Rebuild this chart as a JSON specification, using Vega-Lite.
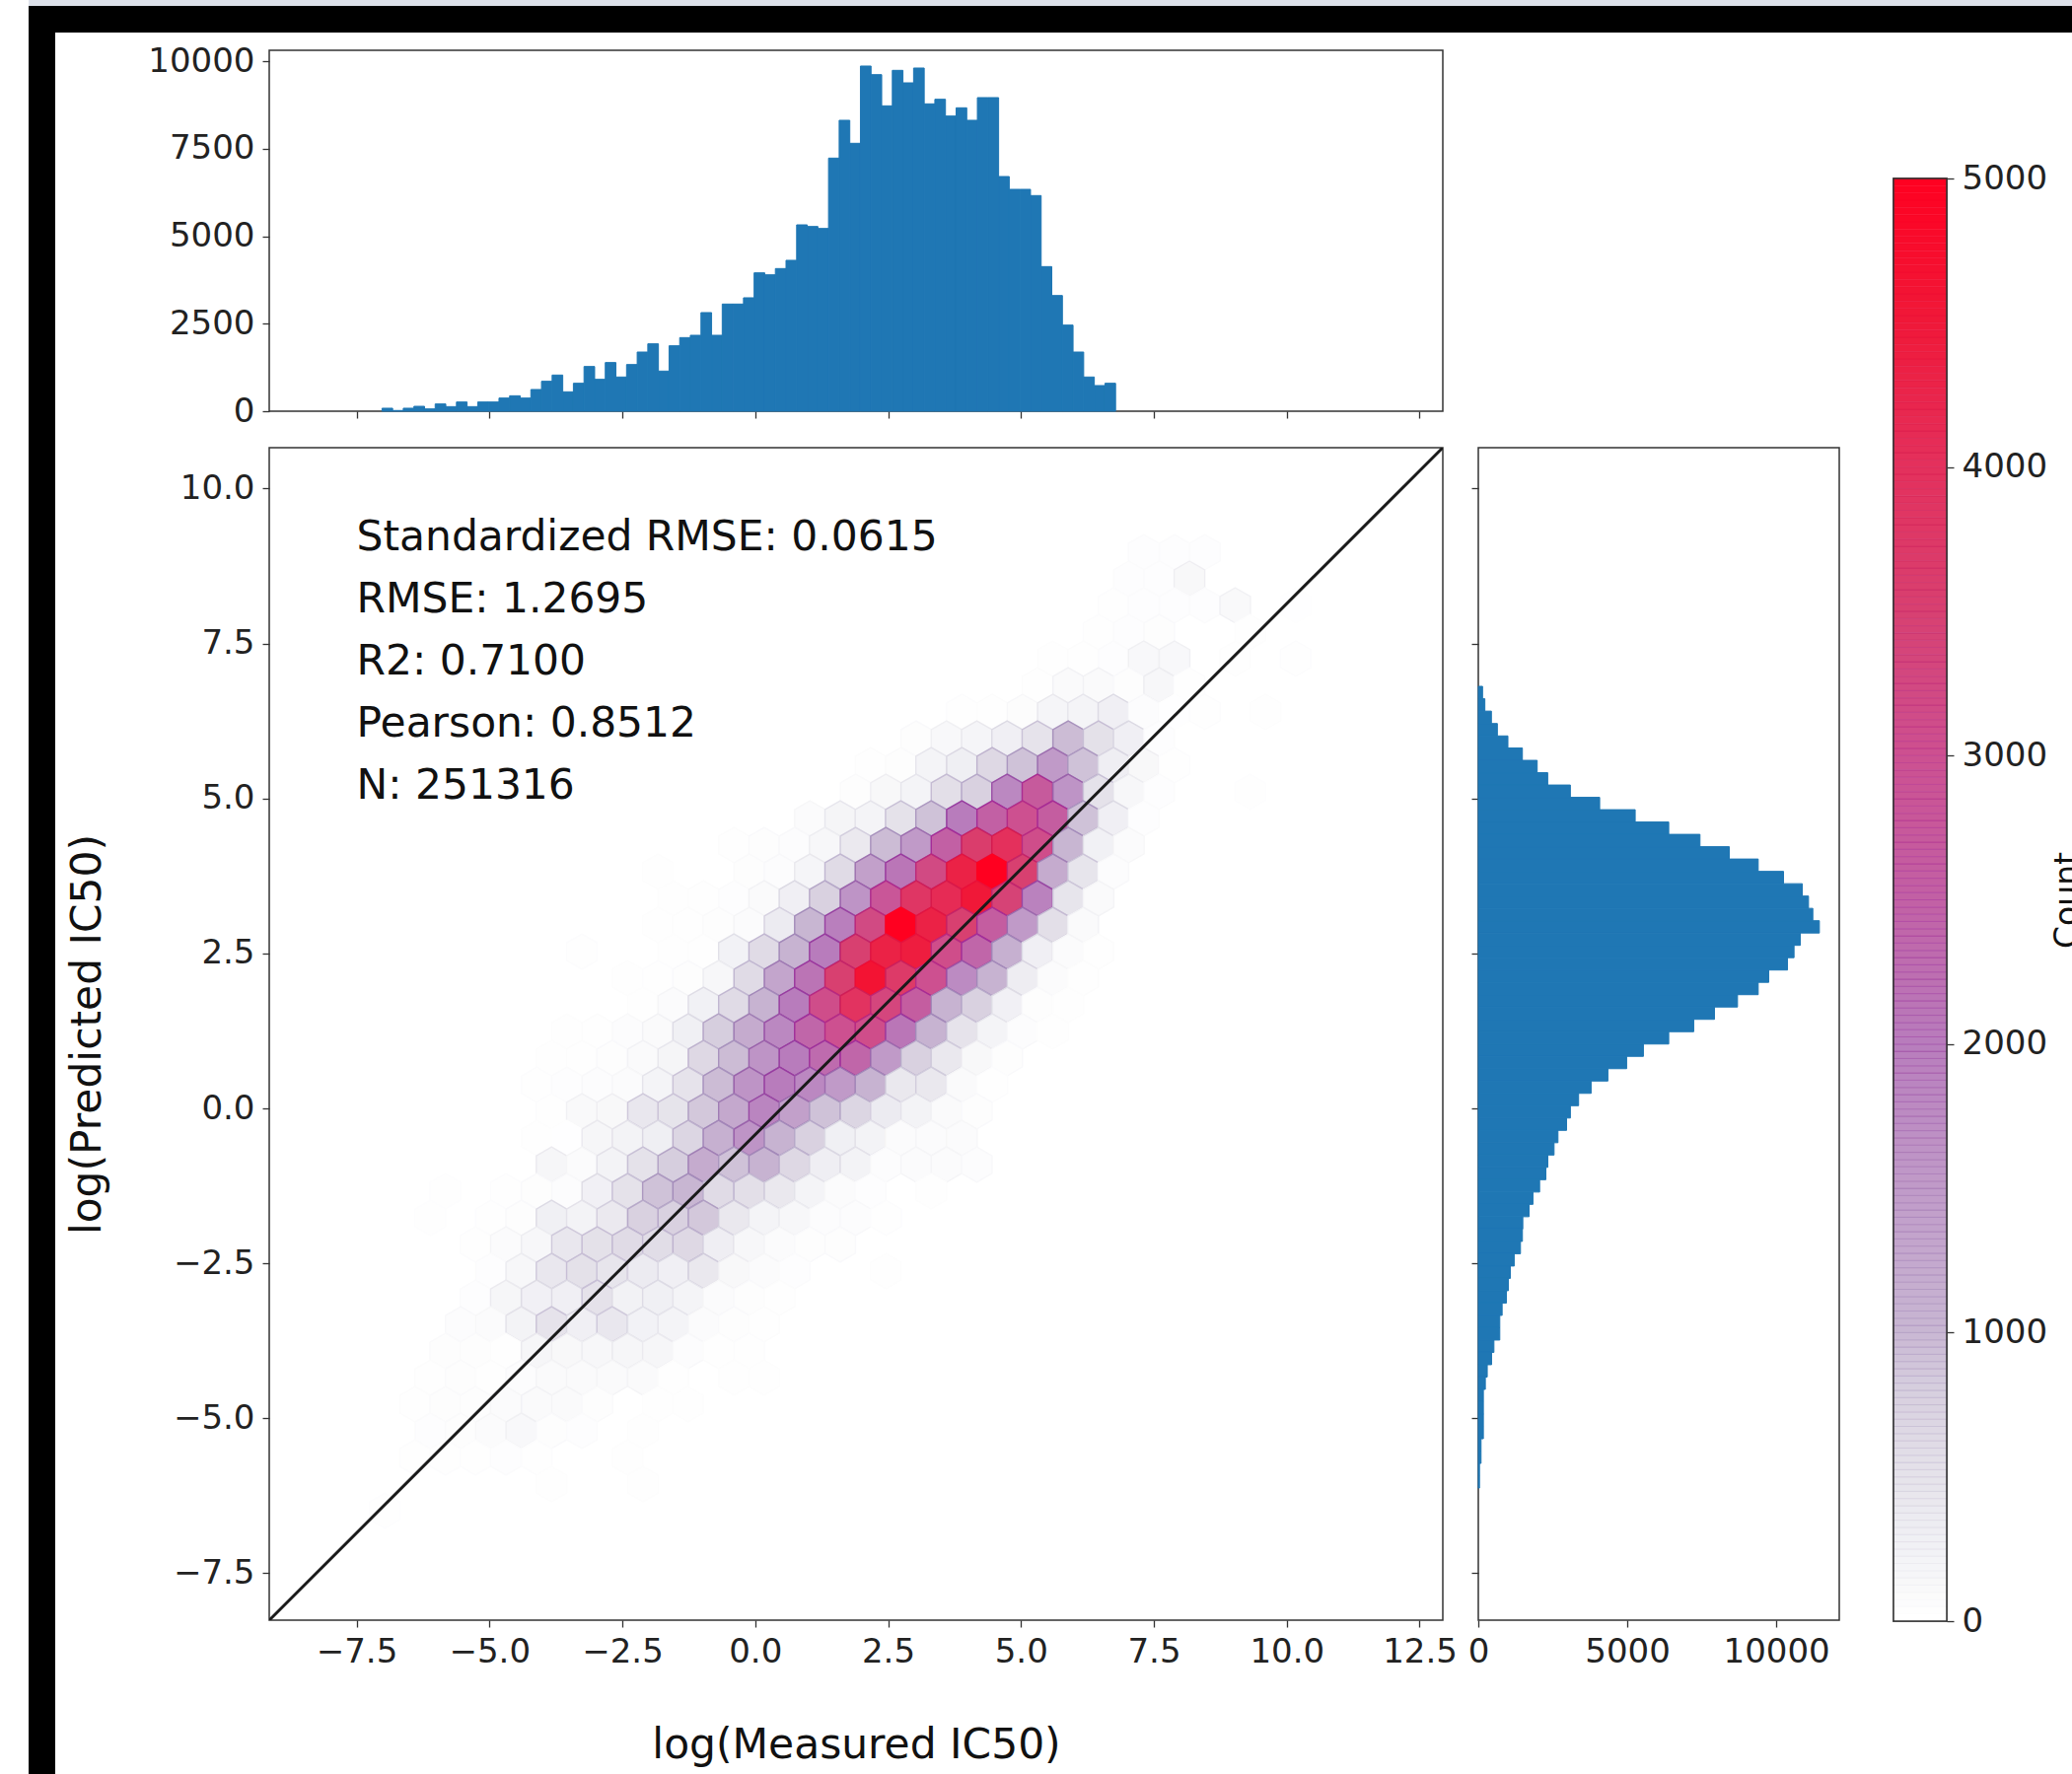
{"$schema":"https://vega.github.io/schema/vega-lite/v6.json","padding":{"left":29,"top":0,"right":0,"bottom":0},"background":"white","autosize":{"type":"pad"},
"config":{"concat":{"spacing":0},"view":{"stroke":"#333","strokeWidth":1.5},"axis":{"grid":false,"domain":false,"tickColor":"#333","tickSize":7,"tickWidth":1.3,"labelFont":"DejaVu Sans","labelFontSize":34,"labelColor":"#222","labelPadding":8,"labelOverlap":false,"labelFlush":false,"titleFont":"DejaVu Sans","titleFontSize":42.4,"titleFontWeight":"normal","titleColor":"#111"}},
"vconcat":[
{"width":2072,"height":6,"view":{"stroke":null},"data":{"values":[{"part":"band"}]},"mark":{"type":"rect","color":"#dde1ea"},"encoding":{}},
{"width":2072,"height":27,"view":{"stroke":null},"data":{"values":[{"part":"top"}]},"mark":{"type":"rect","color":"#000000"},"encoding":{}},
{"hconcat":[
{"width":27,"height":1766,"view":{"stroke":null},"data":{"values":[{"part":"left"}]},"mark":{"type":"rect","color":"#000000"},"encoding":{}},
{"vconcat":[
{"width":10,"height":1,"view":{"stroke":null},"data":{"values":[{"part":"gap"}]},"mark":{"type":"rect","color":"#ffffff"},"encoding":{}},
{"hconcat":[
{"vconcat":[
{"width":1190,"height":366,"data":{"values":[
{"a":-7.02,"b":-6.82,"n":85},{"a":-6.82,"b":-6.62,"n":20},{"a":-6.62,"b":-6.42,"n":85},{"a":-6.42,"b":-6.22,"n":140},{"a":-6.22,"b":-6.02,"n":66},{"a":-6.02,"b":-5.82,"n":207},{"a":-5.82,"b":-5.62,"n":131},{"a":-5.62,"b":-5.42,"n":263},{"a":-5.42,"b":-5.22,"n":131},{"a":-5.22,"b":-5.02,"n":263},{"a":-5.02,"b":-4.82,"n":263},{"a":-4.82,"b":-4.62,"n":376},{"a":-4.62,"b":-4.42,"n":441},{"a":-4.42,"b":-4.22,"n":376},{"a":-4.22,"b":-4.02,"n":620},{"a":-4.02,"b":-3.82,"n":855},{"a":-3.82,"b":-3.62,"n":1033},{"a":-3.62,"b":-3.42,"n":554},{"a":-3.42,"b":-3.22,"n":798},{"a":-3.22,"b":-3.02,"n":1277},{"a":-3.02,"b":-2.82,"n":911},{"a":-2.82,"b":-2.62,"n":1390},{"a":-2.62,"b":-2.42,"n":977},{"a":-2.42,"b":-2.22,"n":1333},{"a":-2.22,"b":-2.02,"n":1690},{"a":-2.02,"b":-1.82,"n":1925},{"a":-1.82,"b":-1.62,"n":1146},{"a":-1.62,"b":-1.42,"n":1869},{"a":-1.42,"b":-1.22,"n":2103},{"a":-1.22,"b":-1.02,"n":2169},{"a":-1.02,"b":-0.82,"n":2817},{"a":-0.82,"b":-0.62,"n":2169},{"a":-0.62,"b":-0.42,"n":3061},{"a":-0.42,"b":-0.22,"n":3061},{"a":-0.22,"b":-0.02,"n":3240},{"a":-0.02,"b":0.18,"n":3953},{"a":0.18,"b":0.38,"n":3897},{"a":0.38,"b":0.58,"n":4075},{"a":0.58,"b":0.78,"n":4310},{"a":0.78,"b":0.98,"n":5324},{"a":0.98,"b":1.18,"n":5277},{"a":1.18,"b":1.38,"n":5221},{"a":1.38,"b":1.58,"n":7230},{"a":1.58,"b":1.78,"n":8310},{"a":1.78,"b":1.98,"n":7653},{"a":1.98,"b":2.18,"n":9860},{"a":2.18,"b":2.38,"n":9615},{"a":2.38,"b":2.58,"n":8723},{"a":2.58,"b":2.78,"n":9737},{"a":2.78,"b":2.98,"n":9380},{"a":2.98,"b":3.18,"n":9803},{"a":3.18,"b":3.38,"n":8780},{"a":3.38,"b":3.58,"n":8911},{"a":3.58,"b":3.78,"n":8432},{"a":3.78,"b":3.98,"n":8667},{"a":3.98,"b":4.18,"n":8310},{"a":4.18,"b":4.38,"n":8958},{"a":4.38,"b":4.58,"n":8958},{"a":4.58,"b":4.78,"n":6704},{"a":4.78,"b":4.98,"n":6338},{"a":4.98,"b":5.18,"n":6338},{"a":5.18,"b":5.38,"n":6160},{"a":5.38,"b":5.58,"n":4131},{"a":5.58,"b":5.78,"n":3305},{"a":5.78,"b":5.98,"n":2460},{"a":5.98,"b":6.18,"n":1690},{"a":6.18,"b":6.38,"n":977},{"a":6.38,"b":6.58,"n":732},{"a":6.58,"b":6.78,"n":798}
]},"mark":{"type":"rect","color":"#1f77b4","stroke":"#1f77b4","strokeWidth":1,"opacity":1},
"encoding":{"x":{"field":"a","type":"quantitative","scale":{"domain":[-9.142,12.936],"nice":false,"zero":false},"axis":{"values":[-7.5,-5,-2.5,0,2.5,5,7.5,10,12.5],"labels":false,"title":null}},"x2":{"field":"b"},"y":{"field":"n","type":"quantitative","scale":{"domain":[0,10310],"nice":false},"axis":{"values":[0,2500,5000,7500,10000],"format":"d","title":null}},"y2":{"datum":0}}},
{"width":1190,"height":1189,"layer":[
{"data":{"values":[
{"x":7.31,"y":8.975,"n":30},{"x":7.89,"y":8.975,"n":30},{"x":8.46,"y":8.975,"n":30},
{"x":7.03,"y":8.546,"n":30},{"x":7.6,"y":8.546,"n":30},{"x":8.17,"y":8.546,"n":120},
{"x":6.74,"y":8.116,"n":20},{"x":7.31,"y":8.116,"n":30},{"x":7.89,"y":8.116,"n":30},{"x":8.46,"y":8.116,"n":30},{"x":9.03,"y":8.116,"n":100},{"x":10.17,"y":8.116,"n":10},
{"x":6.46,"y":7.686,"n":20},{"x":7.03,"y":7.686,"n":30},{"x":7.6,"y":7.686,"n":40},{"x":9.31,"y":7.686,"n":15},
{"x":5.6,"y":7.257,"n":15},{"x":6.17,"y":7.257,"n":25},{"x":6.74,"y":7.257,"n":30},{"x":7.31,"y":7.257,"n":110},{"x":7.89,"y":7.257,"n":110},{"x":9.03,"y":7.257,"n":15},{"x":10.17,"y":7.257,"n":20},
{"x":5.31,"y":6.827,"n":25},{"x":5.89,"y":6.827,"n":90},{"x":6.46,"y":6.827,"n":90},{"x":7.03,"y":6.827,"n":40},{"x":7.6,"y":6.827,"n":130},{"x":8.17,"y":6.827,"n":20},
{"x":3.89,"y":6.398,"n":20},{"x":4.46,"y":6.398,"n":25},{"x":5.03,"y":6.398,"n":55},{"x":5.6,"y":6.398,"n":170},{"x":6.17,"y":6.398,"n":190},{"x":6.74,"y":6.398,"n":280},{"x":7.31,"y":6.398,"n":50},{"x":7.89,"y":6.398,"n":10},{"x":8.46,"y":6.398,"n":20},{"x":9.6,"y":6.398,"n":15},
{"x":3.03,"y":5.968,"n":40},{"x":3.6,"y":5.968,"n":110},{"x":4.17,"y":5.968,"n":170},{"x":4.74,"y":5.968,"n":280},{"x":5.31,"y":5.968,"n":480},{"x":5.89,"y":5.968,"n":950},{"x":6.46,"y":5.968,"n":520},{"x":7.03,"y":5.968,"n":280},{"x":7.6,"y":5.968,"n":30},
{"x":2.17,"y":5.538,"n":25},{"x":2.74,"y":5.538,"n":35},{"x":3.31,"y":5.538,"n":190},{"x":3.89,"y":5.538,"n":290},{"x":4.46,"y":5.538,"n":650},{"x":5.03,"y":5.538,"n":900},{"x":5.6,"y":5.538,"n":1500},{"x":6.17,"y":5.538,"n":900},{"x":6.74,"y":5.538,"n":300},{"x":7.31,"y":5.538,"n":120},{"x":7.89,"y":5.538,"n":20},
{"x":1.89,"y":5.109,"n":35},{"x":2.46,"y":5.109,"n":120},{"x":3.03,"y":5.109,"n":190},{"x":3.6,"y":5.109,"n":550},{"x":4.17,"y":5.109,"n":750},{"x":4.74,"y":5.109,"n":1800},{"x":5.31,"y":5.109,"n":2700},{"x":5.89,"y":5.109,"n":1600},{"x":6.46,"y":5.109,"n":500},{"x":7.03,"y":5.109,"n":130},{"x":7.6,"y":5.109,"n":30},{"x":9.31,"y":5.109,"n":12},
{"x":1.03,"y":4.679,"n":60},{"x":1.6,"y":4.679,"n":180},{"x":2.17,"y":4.679,"n":200},{"x":2.74,"y":4.679,"n":500},{"x":3.31,"y":4.679,"n":900},{"x":3.89,"y":4.679,"n":2000},{"x":4.46,"y":4.679,"n":2500},{"x":5.03,"y":4.679,"n":3000},{"x":5.6,"y":4.679,"n":2600},{"x":6.17,"y":4.679,"n":900},{"x":6.74,"y":4.679,"n":280},{"x":7.31,"y":4.679,"n":30},
{"x":-0.4,"y":4.25,"n":25},{"x":0.17,"y":4.25,"n":40},{"x":0.74,"y":4.25,"n":50},{"x":1.31,"y":4.25,"n":130},{"x":1.89,"y":4.25,"n":380},{"x":2.46,"y":4.25,"n":950},{"x":3.03,"y":4.25,"n":1500},{"x":3.6,"y":4.25,"n":2500},{"x":4.17,"y":4.25,"n":3600},{"x":4.74,"y":4.25,"n":4000},{"x":5.31,"y":4.25,"n":3100},{"x":5.89,"y":4.25,"n":1000},{"x":6.46,"y":4.25,"n":250},{"x":7.03,"y":4.25,"n":60},
{"x":-1.83,"y":3.82,"n":15},{"x":-0.11,"y":3.82,"n":35},{"x":0.46,"y":3.82,"n":50},{"x":1.03,"y":3.82,"n":170},{"x":1.6,"y":3.82,"n":600},{"x":2.17,"y":3.82,"n":1400},{"x":2.74,"y":3.82,"n":2100},{"x":3.31,"y":3.82,"n":3200},{"x":3.89,"y":3.82,"n":4300},{"x":4.46,"y":3.82,"n":5000},{"x":5.03,"y":3.82,"n":3500},{"x":5.6,"y":3.82,"n":1200},{"x":6.17,"y":3.82,"n":450},{"x":6.74,"y":3.82,"n":50},
{"x":-1.54,"y":3.39,"n":15},{"x":-0.97,"y":3.39,"n":25},{"x":-0.4,"y":3.39,"n":30},{"x":0.17,"y":3.39,"n":90},{"x":0.74,"y":3.39,"n":280},{"x":1.31,"y":3.39,"n":750},{"x":1.89,"y":3.39,"n":1600},{"x":2.46,"y":3.39,"n":2800},{"x":3.03,"y":3.39,"n":3800},{"x":3.6,"y":3.39,"n":4100},{"x":4.17,"y":3.39,"n":4500},{"x":4.74,"y":3.39,"n":3400},{"x":5.31,"y":3.39,"n":1900},{"x":5.89,"y":3.39,"n":450},{"x":6.46,"y":3.39,"n":80},
{"x":-1.83,"y":2.961,"n":15},{"x":-1.26,"y":2.961,"n":25},{"x":-0.69,"y":2.961,"n":35},{"x":-0.11,"y":2.961,"n":70},{"x":0.46,"y":2.961,"n":350},{"x":1.03,"y":2.961,"n":1000},{"x":1.6,"y":2.961,"n":1950},{"x":2.17,"y":2.961,"n":3200},{"x":2.74,"y":2.961,"n":5000},{"x":3.31,"y":2.961,"n":4300},{"x":3.89,"y":2.961,"n":3500},{"x":4.46,"y":2.961,"n":2600},{"x":5.03,"y":2.961,"n":1500},{"x":5.6,"y":2.961,"n":550},{"x":6.17,"y":2.961,"n":90},
{"x":-3.26,"y":2.531,"n":20},{"x":-1.54,"y":2.531,"n":15},{"x":-0.97,"y":2.531,"n":25},{"x":-0.4,"y":2.531,"n":230},{"x":0.17,"y":2.531,"n":600},{"x":0.74,"y":2.531,"n":1050},{"x":1.31,"y":2.531,"n":2000},{"x":1.89,"y":2.531,"n":3500},{"x":2.46,"y":2.531,"n":4300},{"x":3.03,"y":2.531,"n":4400},{"x":3.6,"y":2.531,"n":3100},{"x":4.17,"y":2.531,"n":2400},{"x":4.74,"y":2.531,"n":1100},{"x":5.31,"y":2.531,"n":280},{"x":5.89,"y":2.531,"n":70},{"x":6.46,"y":2.531,"n":25},
{"x":-2.4,"y":2.102,"n":15},{"x":-1.83,"y":2.102,"n":20},{"x":-1.26,"y":2.102,"n":40},{"x":-0.69,"y":2.102,"n":130},{"x":-0.11,"y":2.102,"n":600},{"x":0.46,"y":2.102,"n":1300},{"x":1.03,"y":2.102,"n":2150},{"x":1.6,"y":2.102,"n":3500},{"x":2.17,"y":2.102,"n":4600},{"x":2.74,"y":2.102,"n":3700},{"x":3.31,"y":2.102,"n":3000},{"x":3.89,"y":2.102,"n":1750},{"x":4.46,"y":2.102,"n":1050},{"x":5.03,"y":2.102,"n":320},{"x":5.6,"y":2.102,"n":60},{"x":6.17,"y":2.102,"n":25},
{"x":-2.11,"y":1.672,"n":15},{"x":-1.54,"y":1.672,"n":70},{"x":-0.97,"y":1.672,"n":250},{"x":-0.4,"y":1.672,"n":600},{"x":0.17,"y":1.672,"n":1050},{"x":0.74,"y":1.672,"n":2000},{"x":1.31,"y":1.672,"n":3100},{"x":1.89,"y":1.672,"n":3900},{"x":2.46,"y":1.672,"n":3300},{"x":3.03,"y":1.672,"n":2600},{"x":3.6,"y":1.672,"n":1050},{"x":4.17,"y":1.672,"n":750},{"x":4.74,"y":1.672,"n":260},{"x":5.31,"y":1.672,"n":40},{"x":5.89,"y":1.672,"n":15},
{"x":-3.54,"y":1.242,"n":15},{"x":-2.97,"y":1.242,"n":25},{"x":-2.4,"y":1.242,"n":45},{"x":-1.83,"y":1.242,"n":90},{"x":-1.26,"y":1.242,"n":270},{"x":-0.69,"y":1.242,"n":800},{"x":-0.11,"y":1.242,"n":1200},{"x":0.46,"y":1.242,"n":1800},{"x":1.03,"y":1.242,"n":2400},{"x":1.6,"y":1.242,"n":3000},{"x":2.17,"y":1.242,"n":3100},{"x":2.74,"y":1.242,"n":2100},{"x":3.31,"y":1.242,"n":1050},{"x":3.89,"y":1.242,"n":480},{"x":4.46,"y":1.242,"n":200},{"x":5.03,"y":1.242,"n":50},{"x":5.6,"y":1.242,"n":15},
{"x":-3.83,"y":0.813,"n":15},{"x":-3.26,"y":0.813,"n":25},{"x":-2.69,"y":0.813,"n":40},{"x":-2.11,"y":0.813,"n":90},{"x":-1.54,"y":0.813,"n":180},{"x":-0.97,"y":0.813,"n":650},{"x":-0.4,"y":0.813,"n":950},{"x":0.17,"y":0.813,"n":1600},{"x":0.74,"y":0.813,"n":2000},{"x":1.31,"y":0.813,"n":2300},{"x":1.89,"y":0.813,"n":2400},{"x":2.46,"y":0.813,"n":1500},{"x":3.03,"y":0.813,"n":750},{"x":3.6,"y":0.813,"n":400},{"x":4.17,"y":0.813,"n":120},{"x":4.74,"y":0.813,"n":40},
{"x":-4.11,"y":0.383,"n":20},{"x":-3.54,"y":0.383,"n":30},{"x":-2.97,"y":0.383,"n":50},{"x":-2.4,"y":0.383,"n":60},{"x":-1.83,"y":0.383,"n":200},{"x":-1.26,"y":0.383,"n":480},{"x":-0.69,"y":0.383,"n":950},{"x":-0.11,"y":0.383,"n":1600},{"x":0.46,"y":0.383,"n":2000},{"x":1.03,"y":0.383,"n":1800},{"x":1.6,"y":0.383,"n":1500},{"x":2.17,"y":0.383,"n":1050},{"x":2.74,"y":0.383,"n":400},{"x":3.31,"y":0.383,"n":400},{"x":3.89,"y":0.383,"n":80},{"x":4.46,"y":0.383,"n":20},
{"x":-3.83,"y":-0.046,"n":20},{"x":-3.26,"y":-0.046,"n":100},{"x":-2.69,"y":-0.046,"n":120},{"x":-2.11,"y":-0.046,"n":420},{"x":-1.54,"y":-0.046,"n":470},{"x":-0.97,"y":-0.046,"n":850},{"x":-0.4,"y":-0.046,"n":1250},{"x":0.17,"y":-0.046,"n":1850},{"x":0.74,"y":-0.046,"n":1400},{"x":1.31,"y":-0.046,"n":900},{"x":1.89,"y":-0.046,"n":680},{"x":2.46,"y":-0.046,"n":350},{"x":3.03,"y":-0.046,"n":210},{"x":3.6,"y":-0.046,"n":90},{"x":4.17,"y":-0.046,"n":40},
{"x":-4.11,"y":-0.476,"n":15},{"x":-3.54,"y":-0.476,"n":10},{"x":-2.97,"y":-0.476,"n":160},{"x":-2.4,"y":-0.476,"n":210},{"x":-1.83,"y":-0.476,"n":290},{"x":-1.26,"y":-0.476,"n":680},{"x":-0.69,"y":-0.476,"n":1100},{"x":-0.11,"y":-0.476,"n":1600},{"x":0.46,"y":-0.476,"n":1050},{"x":1.03,"y":-0.476,"n":750},{"x":1.6,"y":-0.476,"n":270},{"x":2.17,"y":-0.476,"n":220},{"x":2.74,"y":-0.476,"n":60},{"x":3.31,"y":-0.476,"n":70},{"x":3.89,"y":-0.476,"n":60},
{"x":-3.83,"y":-0.906,"n":150},{"x":-3.26,"y":-0.906,"n":70},{"x":-2.69,"y":-0.906,"n":220},{"x":-2.11,"y":-0.906,"n":500},{"x":-1.54,"y":-0.906,"n":800},{"x":-0.97,"y":-0.906,"n":1200},{"x":-0.4,"y":-0.906,"n":900},{"x":0.17,"y":-0.906,"n":1050},{"x":0.74,"y":-0.906,"n":650},{"x":1.31,"y":-0.906,"n":300},{"x":1.89,"y":-0.906,"n":220},{"x":2.46,"y":-0.906,"n":50},{"x":3.03,"y":-0.906,"n":70},{"x":3.6,"y":-0.906,"n":70},{"x":4.17,"y":-0.906,"n":50},
{"x":-5.83,"y":-1.335,"n":12},{"x":-4.69,"y":-1.335,"n":20},{"x":-4.11,"y":-1.335,"n":40},{"x":-3.54,"y":-1.335,"n":50},{"x":-2.97,"y":-1.335,"n":260},{"x":-2.4,"y":-1.335,"n":500},{"x":-1.83,"y":-1.335,"n":900},{"x":-1.26,"y":-1.335,"n":1000},{"x":-0.69,"y":-1.335,"n":600},{"x":-0.11,"y":-1.335,"n":550},{"x":0.46,"y":-1.335,"n":400},{"x":1.03,"y":-1.335,"n":200},{"x":1.6,"y":-1.335,"n":60},{"x":2.17,"y":-1.335,"n":30},{"x":3.31,"y":-1.335,"n":15},
{"x":-6.11,"y":-1.765,"n":12},{"x":-4.97,"y":-1.765,"n":20},{"x":-4.4,"y":-1.765,"n":40},{"x":-3.83,"y":-1.765,"n":270},{"x":-3.26,"y":-1.765,"n":210},{"x":-2.69,"y":-1.765,"n":380},{"x":-2.11,"y":-1.765,"n":750},{"x":-1.54,"y":-1.765,"n":750},{"x":-0.97,"y":-1.765,"n":850},{"x":-0.4,"y":-1.765,"n":400},{"x":0.17,"y":-1.765,"n":200},{"x":0.74,"y":-1.765,"n":130},{"x":1.31,"y":-1.765,"n":50},{"x":1.89,"y":-1.765,"n":50},{"x":2.46,"y":-1.765,"n":20},
{"x":-5.26,"y":-2.194,"n":20},{"x":-4.69,"y":-2.194,"n":70},{"x":-4.11,"y":-2.194,"n":130},{"x":-3.54,"y":-2.194,"n":420},{"x":-2.97,"y":-2.194,"n":520},{"x":-2.4,"y":-2.194,"n":600},{"x":-1.83,"y":-2.194,"n":580},{"x":-1.26,"y":-2.194,"n":650},{"x":-0.69,"y":-2.194,"n":300},{"x":-0.11,"y":-2.194,"n":130},{"x":0.46,"y":-2.194,"n":70},{"x":1.03,"y":-2.194,"n":40},{"x":1.6,"y":-2.194,"n":40},
{"x":-4.97,"y":-2.624,"n":30},{"x":-4.4,"y":-2.624,"n":140},{"x":-3.83,"y":-2.624,"n":420},{"x":-3.26,"y":-2.624,"n":520},{"x":-2.69,"y":-2.624,"n":450},{"x":-2.11,"y":-2.624,"n":350},{"x":-1.54,"y":-2.624,"n":280},{"x":-0.97,"y":-2.624,"n":400},{"x":-0.4,"y":-2.624,"n":120},{"x":0.17,"y":-2.624,"n":60},{"x":0.74,"y":-2.624,"n":30},{"x":2.46,"y":-2.624,"n":15},
{"x":-5.26,"y":-3.054,"n":30},{"x":-4.69,"y":-3.054,"n":150},{"x":-4.11,"y":-3.054,"n":260},{"x":-3.54,"y":-3.054,"n":280},{"x":-2.97,"y":-3.054,"n":500},{"x":-2.4,"y":-3.054,"n":240},{"x":-1.83,"y":-3.054,"n":270},{"x":-1.26,"y":-3.054,"n":200},{"x":-0.69,"y":-3.054,"n":60},{"x":-0.11,"y":-3.054,"n":40},{"x":0.46,"y":-3.054,"n":25},
{"x":-5.54,"y":-3.483,"n":50},{"x":-4.97,"y":-3.483,"n":60},{"x":-4.4,"y":-3.483,"n":220},{"x":-3.83,"y":-3.483,"n":480},{"x":-3.26,"y":-3.483,"n":280},{"x":-2.69,"y":-3.483,"n":420},{"x":-2.11,"y":-3.483,"n":230},{"x":-1.54,"y":-3.483,"n":190},{"x":-0.97,"y":-3.483,"n":60},{"x":-0.4,"y":-3.483,"n":40},{"x":0.17,"y":-3.483,"n":25},
{"x":-5.83,"y":-3.913,"n":35},{"x":-5.26,"y":-3.913,"n":35},{"x":-4.69,"y":-3.913,"n":25},{"x":-4.11,"y":-3.913,"n":150},{"x":-3.54,"y":-3.913,"n":120},{"x":-2.97,"y":-3.913,"n":130},{"x":-2.4,"y":-3.913,"n":160},{"x":-1.83,"y":-3.913,"n":150},{"x":-1.26,"y":-3.913,"n":50},{"x":-0.69,"y":-3.913,"n":25},{"x":-0.11,"y":-3.913,"n":20},
{"x":-6.11,"y":-4.342,"n":25},{"x":-5.54,"y":-4.342,"n":35},{"x":-4.97,"y":-4.342,"n":25},{"x":-4.4,"y":-4.342,"n":50},{"x":-3.83,"y":-4.342,"n":80},{"x":-3.26,"y":-4.342,"n":80},{"x":-2.69,"y":-4.342,"n":80},{"x":-2.11,"y":-4.342,"n":80},{"x":-1.54,"y":-4.342,"n":25},{"x":-0.4,"y":-4.342,"n":15},{"x":0.17,"y":-4.342,"n":15},
{"x":-6.4,"y":-4.772,"n":25},{"x":-5.83,"y":-4.772,"n":35},{"x":-5.26,"y":-4.772,"n":35},{"x":-4.69,"y":-4.772,"n":60},{"x":-4.11,"y":-4.772,"n":90},{"x":-3.54,"y":-4.772,"n":80},{"x":-2.97,"y":-4.772,"n":35},{"x":-1.83,"y":-4.772,"n":15},{"x":-1.26,"y":-4.772,"n":15},
{"x":-6.11,"y":-5.202,"n":30},{"x":-5.54,"y":-5.202,"n":35},{"x":-4.97,"y":-5.202,"n":60},{"x":-4.4,"y":-5.202,"n":110},{"x":-3.83,"y":-5.202,"n":40},{"x":-3.26,"y":-5.202,"n":30},{"x":-2.11,"y":-5.202,"n":15},
{"x":-6.4,"y":-5.631,"n":20},{"x":-5.83,"y":-5.631,"n":20},{"x":-5.26,"y":-5.631,"n":20},{"x":-4.69,"y":-5.631,"n":30},{"x":-4.11,"y":-5.631,"n":20},{"x":-2.4,"y":-5.631,"n":15},
{"x":-3.83,"y":-6.061,"n":15},{"x":-2.11,"y":-6.061,"n":15},
{"x":-6.97,"y":-6.49,"n":12}
]},"mark":{"type":"point","filled":true,"opacity":1,"size":1280,"strokeWidth":1.4,"shape":"M0,-1L0.866,-0.5L0.866,0.5L0,1L-0.866,0.5L-0.866,-0.5Z"},
"encoding":{"x":{"field":"x","type":"quantitative","scale":{"domain":[-9.142,12.936],"nice":false,"zero":false},"axis":{"values":[-7.5,-5,-2.5,0,2.5,5,7.5,10,12.5],"format":".1f","title":"log(Measured IC50)","titlePadding":57}},"y":{"field":"y","type":"quantitative","scale":{"domain":[-8.256,10.66],"nice":false,"zero":false},"axis":{"values":[-7.5,-5,-2.5,0,2.5,5,7.5,10],"format":".1f","title":"log(Predicted IC50)","titlePadding":65}},
"fill":{"field":"n","type":"quantitative","legend":null,"scale":{"interpolate":"rgb","domain":[0,100,250,500,800,1000,1500,2000,2500,3000,3500,4000,4500,5000],"range":["#ffffff","#f9f9fa","#f1f1f5","#e5e2ea","#d6cede","#c8b6d2","#c09ac8","#b87cbc","#c260a4","#cd5090","#d84070","#e4305c","#f01838","#ff0020"]}},
"stroke":{"field":"n","type":"quantitative","legend":null,"scale":{"interpolate":"rgb","domain":[0,100,250,500,800,1000,1500,2000,2500,3000,3500,4000,4500,5000],"range":["#ffffff","#f1f1f4","#dfdde6","#c8c0d6","#b4a4c6","#a48cba","#9c6cae","#983ca0","#a42c98","#b42c88","#c42468","#d41c50","#ea1038","#ff0020"]}}}},
{"data":{"values":[{"x":-9.142,"y":-8.256},{"x":12.936,"y":10.66}]},"mark":{"type":"line","color":"#1a1a1a","strokeWidth":3,"clip":true},"encoding":{"x":{"field":"x","type":"quantitative"},"y":{"field":"y","type":"quantitative"}}},
{"data":{"values":[{"label":"Standardized RMSE: 0.0615","x":-7.5,"y":9},{"label":"RMSE: 1.2695","x":-7.5,"y":8},{"label":"R2: 0.7100","x":-7.5,"y":7},{"label":"Pearson: 0.8512","x":-7.5,"y":6},{"label":"N: 251316","x":-7.5,"y":5}]},"mark":{"type":"text","align":"left","baseline":"alphabetic","font":"DejaVu Sans","fontSize":42.4,"color":"#111111"},"encoding":{"x":{"field":"x","type":"quantitative"},"y":{"field":"y","type":"quantitative"},"text":{"field":"label"}}}
]}
],"spacing":18},
{"vconcat":[
{"width":10,"height":402,"view":{"stroke":null},"data":{"values":[{"part":"gap"}]},"mark":{"type":"rect","color":"#ffffff"},"encoding":{}},
{"width":366,"height":1189,"data":{"values":[
{"a":6.81,"b":6.61,"n":143},{"a":6.61,"b":6.41,"n":220},{"a":6.41,"b":6.21,"n":440},{"a":6.21,"b":6.01,"n":640},{"a":6.01,"b":5.815,"n":994},{"a":5.815,"b":5.616,"n":1480},{"a":5.616,"b":5.417,"n":1976},{"a":5.417,"b":5.218,"n":2330},{"a":5.218,"b":5.019,"n":3090},{"a":5.019,"b":4.82,"n":4074},{"a":4.82,"b":4.621,"n":5266},{"a":4.621,"b":4.422,"n":6392},{"a":4.422,"b":4.223,"n":7441},{"a":4.223,"b":4.024,"n":8424},{"a":4.024,"b":3.825,"n":9395},{"a":3.825,"b":3.626,"n":10245},{"a":3.626,"b":3.427,"n":10874},{"a":3.427,"b":3.228,"n":11084},{"a":3.228,"b":3.029,"n":11228},{"a":3.029,"b":2.83,"n":11448},{"a":2.83,"b":2.631,"n":10808},{"a":2.631,"b":2.432,"n":10598},{"a":2.432,"b":2.233,"n":10378},{"a":2.233,"b":2.034,"n":9748},{"a":2.034,"b":1.835,"n":9395},{"a":1.835,"b":1.636,"n":8700},{"a":1.636,"b":1.437,"n":7927},{"a":1.437,"b":1.238,"n":7231},{"a":1.238,"b":1.039,"n":6392},{"a":1.039,"b":0.84,"n":5542},{"a":0.84,"b":0.641,"n":4979},{"a":0.641,"b":0.442,"n":4350},{"a":0.442,"b":0.243,"n":3787},{"a":0.243,"b":0.044,"n":3367},{"a":0.044,"b":-0.155,"n":3091},{"a":-0.155,"b":-0.354,"n":2963},{"a":-0.354,"b":-0.553,"n":2674},{"a":-0.553,"b":-0.752,"n":2543},{"a":-0.752,"b":-0.951,"n":2333},{"a":-0.951,"b":-1.15,"n":2268},{"a":-1.15,"b":-1.349,"n":2058},{"a":-1.349,"b":-1.548,"n":1835},{"a":-1.548,"b":-1.747,"n":1704},{"a":-1.747,"b":-1.946,"n":1494},{"a":-1.946,"b":-2.145,"n":1481},{"a":-2.145,"b":-2.344,"n":1416},{"a":-2.344,"b":-2.543,"n":1206},{"a":-2.543,"b":-2.742,"n":1075},{"a":-2.742,"b":-2.941,"n":1009},{"a":-2.941,"b":-3.14,"n":944},{"a":-3.14,"b":-3.339,"n":800},{"a":-3.339,"b":-3.538,"n":721},{"a":-3.538,"b":-3.737,"n":721},{"a":-3.737,"b":-3.936,"n":524},{"a":-3.936,"b":-4.135,"n":446},{"a":-4.135,"b":-4.334,"n":300},{"a":-4.334,"b":-4.533,"n":236},{"a":-4.533,"b":-4.732,"n":170},{"a":-4.732,"b":-4.931,"n":170},{"a":-4.931,"b":-5.13,"n":170},{"a":-5.13,"b":-5.329,"n":170},{"a":-5.329,"b":-5.528,"n":92},{"a":-5.528,"b":-5.727,"n":92},{"a":-5.727,"b":-5.926,"n":40},{"a":-5.926,"b":-6.125,"n":40}
]},"mark":{"type":"rect","color":"#1f77b4","stroke":"#1f77b4","strokeWidth":1,"opacity":1},
"encoding":{"y":{"field":"a","type":"quantitative","scale":{"domain":[-8.256,10.66],"nice":false,"zero":false},"axis":{"values":[-7.5,-5,-2.5,0,2.5,5,7.5,10],"labels":false,"title":null}},"y2":{"field":"b"},"x":{"field":"n","type":"quantitative","scale":{"domain":[0,12115],"nice":false},"axis":{"values":[0,5000,10000],"format":"d","title":null}},"x2":{"datum":0}}}
]},
{"width":36,"height":1,"view":{"stroke":null},"data":{"values":[{"part":"gap"}]},"mark":{"type":"rect","color":"#ffffff"},"encoding":{}},
{"vconcat":[
{"width":10,"height":112,"view":{"stroke":null},"data":{"values":[{"part":"gap"}]},"mark":{"type":"rect","color":"#ffffff"},"encoding":{}},
{"width":54,"height":1463,"layer":[{"data":{"values":[
{"c":0,"d":25},{"c":25,"d":50},{"c":50,"d":75},{"c":75,"d":100},{"c":100,"d":125},{"c":125,"d":150},{"c":150,"d":175},{"c":175,"d":200},{"c":200,"d":225},{"c":225,"d":250},{"c":250,"d":275},{"c":275,"d":300},{"c":300,"d":325},{"c":325,"d":350},{"c":350,"d":375},{"c":375,"d":400},{"c":400,"d":425},{"c":425,"d":450},{"c":450,"d":475},{"c":475,"d":500},{"c":500,"d":525},{"c":525,"d":550},{"c":550,"d":575},{"c":575,"d":600},{"c":600,"d":625},{"c":625,"d":650},{"c":650,"d":675},{"c":675,"d":700},{"c":700,"d":725},{"c":725,"d":750},{"c":750,"d":775},{"c":775,"d":800},{"c":800,"d":825},{"c":825,"d":850},{"c":850,"d":875},{"c":875,"d":900},{"c":900,"d":925},{"c":925,"d":950},{"c":950,"d":975},{"c":975,"d":1000},
{"c":1000,"d":1025},{"c":1025,"d":1050},{"c":1050,"d":1075},{"c":1075,"d":1100},{"c":1100,"d":1125},{"c":1125,"d":1150},{"c":1150,"d":1175},{"c":1175,"d":1200},{"c":1200,"d":1225},{"c":1225,"d":1250},{"c":1250,"d":1275},{"c":1275,"d":1300},{"c":1300,"d":1325},{"c":1325,"d":1350},{"c":1350,"d":1375},{"c":1375,"d":1400},{"c":1400,"d":1425},{"c":1425,"d":1450},{"c":1450,"d":1475},{"c":1475,"d":1500},{"c":1500,"d":1525},{"c":1525,"d":1550},{"c":1550,"d":1575},{"c":1575,"d":1600},{"c":1600,"d":1625},{"c":1625,"d":1650},{"c":1650,"d":1675},{"c":1675,"d":1700},{"c":1700,"d":1725},{"c":1725,"d":1750},{"c":1750,"d":1775},{"c":1775,"d":1800},{"c":1800,"d":1825},{"c":1825,"d":1850},{"c":1850,"d":1875},{"c":1875,"d":1900},{"c":1900,"d":1925},{"c":1925,"d":1950},{"c":1950,"d":1975},{"c":1975,"d":2000},
{"c":2000,"d":2025},{"c":2025,"d":2050},{"c":2050,"d":2075},{"c":2075,"d":2100},{"c":2100,"d":2125},{"c":2125,"d":2150},{"c":2150,"d":2175},{"c":2175,"d":2200},{"c":2200,"d":2225},{"c":2225,"d":2250},{"c":2250,"d":2275},{"c":2275,"d":2300},{"c":2300,"d":2325},{"c":2325,"d":2350},{"c":2350,"d":2375},{"c":2375,"d":2400},{"c":2400,"d":2425},{"c":2425,"d":2450},{"c":2450,"d":2475},{"c":2475,"d":2500},{"c":2500,"d":2525},{"c":2525,"d":2550},{"c":2550,"d":2575},{"c":2575,"d":2600},{"c":2600,"d":2625},{"c":2625,"d":2650},{"c":2650,"d":2675},{"c":2675,"d":2700},{"c":2700,"d":2725},{"c":2725,"d":2750},{"c":2750,"d":2775},{"c":2775,"d":2800},{"c":2800,"d":2825},{"c":2825,"d":2850},{"c":2850,"d":2875},{"c":2875,"d":2900},{"c":2900,"d":2925},{"c":2925,"d":2950},{"c":2950,"d":2975},{"c":2975,"d":3000},
{"c":3000,"d":3025},{"c":3025,"d":3050},{"c":3050,"d":3075},{"c":3075,"d":3100},{"c":3100,"d":3125},{"c":3125,"d":3150},{"c":3150,"d":3175},{"c":3175,"d":3200},{"c":3200,"d":3225},{"c":3225,"d":3250},{"c":3250,"d":3275},{"c":3275,"d":3300},{"c":3300,"d":3325},{"c":3325,"d":3350},{"c":3350,"d":3375},{"c":3375,"d":3400},{"c":3400,"d":3425},{"c":3425,"d":3450},{"c":3450,"d":3475},{"c":3475,"d":3500},{"c":3500,"d":3525},{"c":3525,"d":3550},{"c":3550,"d":3575},{"c":3575,"d":3600},{"c":3600,"d":3625},{"c":3625,"d":3650},{"c":3650,"d":3675},{"c":3675,"d":3700},{"c":3700,"d":3725},{"c":3725,"d":3750},{"c":3750,"d":3775},{"c":3775,"d":3800},{"c":3800,"d":3825},{"c":3825,"d":3850},{"c":3850,"d":3875},{"c":3875,"d":3900},{"c":3900,"d":3925},{"c":3925,"d":3950},{"c":3950,"d":3975},{"c":3975,"d":4000},
{"c":4000,"d":4025},{"c":4025,"d":4050},{"c":4050,"d":4075},{"c":4075,"d":4100},{"c":4100,"d":4125},{"c":4125,"d":4150},{"c":4150,"d":4175},{"c":4175,"d":4200},{"c":4200,"d":4225},{"c":4225,"d":4250},{"c":4250,"d":4275},{"c":4275,"d":4300},{"c":4300,"d":4325},{"c":4325,"d":4350},{"c":4350,"d":4375},{"c":4375,"d":4400},{"c":4400,"d":4425},{"c":4425,"d":4450},{"c":4450,"d":4475},{"c":4475,"d":4500},{"c":4500,"d":4525},{"c":4525,"d":4550},{"c":4550,"d":4575},{"c":4575,"d":4600},{"c":4600,"d":4625},{"c":4625,"d":4650},{"c":4650,"d":4675},{"c":4675,"d":4700},{"c":4700,"d":4725},{"c":4725,"d":4750},{"c":4750,"d":4775},{"c":4775,"d":4800},{"c":4800,"d":4825},{"c":4825,"d":4850},{"c":4850,"d":4875},{"c":4875,"d":4900},{"c":4900,"d":4925},{"c":4925,"d":4950},{"c":4950,"d":4975},{"c":4975,"d":5000}
]},"mark":{"type":"rect","strokeWidth":0.8,"strokeOpacity":0.6,"opacity":1},
"encoding":{"y":{"field":"c","type":"quantitative","scale":{"domain":[0,5000],"nice":false},"axis":{"orient":"right","values":[0,1000,2000,3000,4000,5000],"format":"d","title":"Count","titleFontSize":33,"titleAngle":270,"titlePadding":38}},"y2":{"field":"d"},
"fill":{"field":"c","type":"quantitative","legend":null,"scale":{"interpolate":"rgb","domain":[0,100,250,500,800,1000,1500,2000,2500,3000,3500,4000,4500,5000],"range":["#ffffff","#f9f9fa","#f1f1f5","#e5e2ea","#d6cede","#c8b6d2","#c09ac8","#b87cbc","#c260a4","#cd5090","#d84070","#e4305c","#f01838","#ff0020"]}},
"stroke":{"field":"c","type":"quantitative","legend":null,"scale":{"interpolate":"rgb","domain":[0,100,250,500,800,1000,1500,2000,2500,3000,3500,4000,4500,5000],"range":["#ffffff","#f1f1f4","#dfdde6","#c8c0d6","#b4a4c6","#a48cba","#9c6cae","#983ca0","#a42c98","#b42c88","#c42468","#d41c50","#ea1038","#ff0020"]}}}},
{"data":{"values":[{"part":"outline"}]},"mark":{"type":"rect","fillOpacity":0,"stroke":"#333333","strokeWidth":1.5},"encoding":{}}
]}
]}
],"spacing":8}
],"spacing":10}
],"spacing":10}
]}
